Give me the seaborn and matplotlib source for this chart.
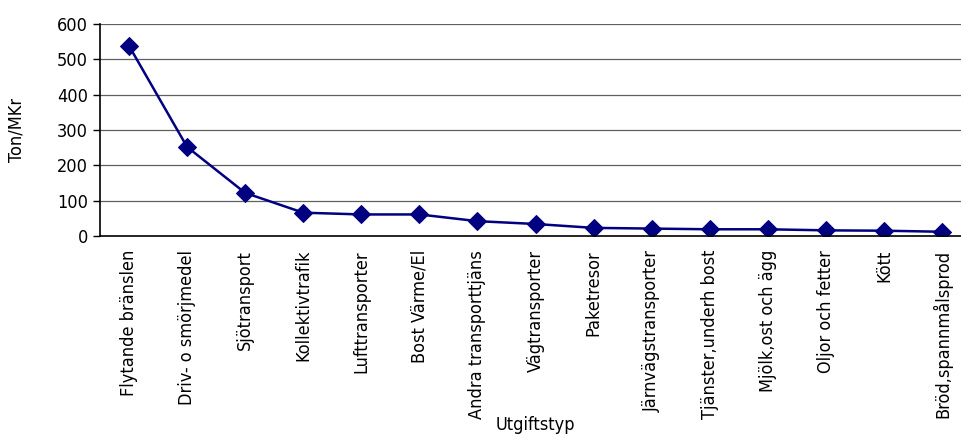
import numpy as np
import pandas as pd
import seaborn as sns
import matplotlib.pyplot as plt

# utgiftstyper och utslapp (ton per miljon kr)
kategorier = ["Flytande bränslen", "Driv- o smörjmedel", "Sjötransport",
              "Kollektivtrafik", "Lufttransporter", "Bost Värme/El",
              "Andra transporttjäns", "Vägtransporter", "Paketresor",
              "Järnvägstransporter", "Tjänster,underh bost",
              "Mjölk,ost och ägg", "Oljor och fetter", "Kött",
              "Bröd,spannmålsprod"]
ton_per_mkr = [538, 252, 122, 66, 61, 61, 42, 34, 23, 21, 19, 19, 16, 15, 12]
y_ticks = [0, 100, 200, 300, 400, 500, 600]

df = pd.DataFrame({"Utgiftstyp": kategorier, "Ton/MKr": ton_per_mkr})

sns.set_style("white")
plt.rcParams["font.family"] = ["Liberation Sans Narrow", "DejaVu Sans"]
plt.rcParams["font.stretch"] = "condensed"
plt.rcParams["text.color"] = "black"
plt.rcParams["axes.labelcolor"] = "black"
plt.rcParams["xtick.color"] = "black"
plt.rcParams["ytick.color"] = "black"

fig = plt.figure(figsize=(9.61, 4.42), dpi=100)
ax = fig.add_axes([100 / 961, 206 / 442, 871 / 961, 212 / 442])

sns.lineplot(data=df, x="Utgiftstyp", y="Ton/MKr", sort=False, ax=ax,
             color="#000080", linewidth=1.8, marker="D", markersize=9,
             markeredgecolor="#000080")

ax.set_xlim(-0.5, len(kategorier) - 0.5)
ax.set_ylim(0, 600)
ax.set_yticks(y_ticks)
for v in y_ticks[1:]:
    ax.axhline(v, color="#606060", linewidth=0.9, zorder=0)

ax.set_xticks(np.arange(len(kategorier)))
ax.set_xticklabels(kategorier, rotation=90, fontsize=13)
ax.set_xticks(np.arange(len(kategorier) + 1) - 0.5, minor=True)
ax.tick_params(axis="x", which="major", length=0, pad=10)
ax.tick_params(axis="x", which="minor", length=5, width=1, direction="out")
ax.tick_params(axis="y", length=5, width=1, direction="out", labelsize=13, left=True)

for s in ["top", "right"]:
    ax.spines[s].set_visible(False)
for s in ["left", "bottom"]:
    ax.spines[s].set_color("black")
    ax.spines[s].set_linewidth(1.2)

ax.set_xlabel("Utgiftstyp", fontsize=13)
ax.set_ylabel("Ton/MKr", fontsize=13)
ax.xaxis.set_label_coords(435 / 871, -(416 - 236) / 212)
ax.yaxis.set_label_coords(-(100 - 26) / 871, 0.5)

fig.savefig("out.png", dpi=100)
